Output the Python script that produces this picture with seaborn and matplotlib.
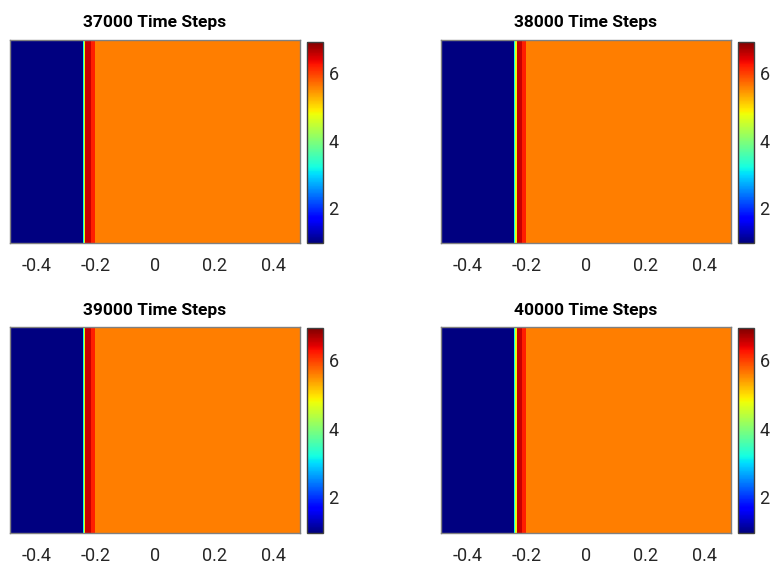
import numpy as np
import pandas as pd
import matplotlib
matplotlib.use("Agg")
import matplotlib.pyplot as plt
import seaborn as sns

sns.set_theme(style="white")
plt.rcParams['font.family'] = ['Roboto', 'Liberation Sans', 'DejaVu Sans']

# ---- data (piecewise-constant 1D fields) ----
titles = ["37000 Time Steps", "38000 Time Steps", "39000 Time Steps", "40000 Time Steps"]
# segment boundaries in x for each panel
edges_37000 = [-0.49, -0.2437, -0.2403, -0.2353, -0.2167, -0.2032, 0.49]
edges_38000 = [-0.49, -0.2427, -0.2393, -0.2342, -0.2157, -0.2022, 0.49]
edges_39000 = [-0.49, -0.2437, -0.2403, -0.2353, -0.2167, -0.2032, 0.49]
edges_40000 = [-0.49, -0.2427, -0.2393, -0.2342, -0.2157, -0.2022, 0.49]
# value on each segment
seg_values = [0.96, 3.2, 4.7, 6.55, 6.21, 5.6]
vmin, vmax = 0.96, 6.94
xticks = [-0.4, -0.2, 0, 0.2, 0.4]
xticklabels = ["-0.4", "-0.2", "0", "0.2", "0.4"]
cbar_ticks = [2, 4, 6]

edges_all = [edges_37000, edges_38000, edges_39000, edges_40000]

x0, x1 = -0.49, 0.49
ncell = 290
dx = (x1 - x0) / ncell
xc = x0 + dx * (np.arange(ncell) + 0.5)

W, H = 771, 565
fig = plt.figure(figsize=(W / 100, H / 100), dpi=100)

def fr(l, t, r, b):
    return [l / W, 1 - b / H, (r - l) / W, (b - t) / H]

ax_boxes = [fr(10, 40, 300, 243), fr(441, 40, 731, 243),
            fr(10, 327, 300, 533), fr(441, 327, 731, 533)]
cb_boxes = [fr(307, 41.5, 323, 243), fr(738, 41.5, 754, 243),
            fr(307, 328, 323, 533), fr(738, 328, 754, 533)]

frame_col = "#262626"
for i in range(4):
    ax = fig.add_axes(ax_boxes[i])
    cax = fig.add_axes(cb_boxes[i])
    e = np.array(edges_all[i])
    idx = np.clip(np.searchsorted(e, xc, side="right") - 1, 0, len(seg_values) - 1)
    vals = np.array(seg_values)[idx]
    df = pd.DataFrame([vals], columns=np.round(xc, 5))
    sns.heatmap(df, ax=ax, cmap="jet", vmin=vmin, vmax=vmax, cbar=True,
                cbar_ax=cax, xticklabels=False, yticklabels=False,
                linewidths=0, linecolor="face", antialiased=False)
    ax.set_xticks([(t - x0) / dx for t in xticks])
    ax.set_xticklabels(xticklabels, fontsize=13, color="#262626")
    ax.set_yticks([])
    ax.tick_params(axis="x", direction="in", length=4, width=0.6, pad=10,
                   top=True, bottom=True, colors=frame_col, labelcolor="#262626")
    ax.set_xlabel("")
    ax.set_ylabel("")
    for s in ax.spines.values():
        s.set_visible(True)
        s.set_color("#808080")
        s.set_linewidth(1.0)
    ax.set_title(titles[i], fontsize=12.5, fontweight="bold", pad=9, color="black")
    cb = ax.collections[0].colorbar
    cb.set_ticks(cbar_ticks)
    cb.ax.tick_params(direction="in", length=3, width=0.6, labelsize=13, pad=4,
                      colors=frame_col, labelcolor="#262626")
    cb.outline.set_visible(True)
    cb.outline.set_linewidth(1.0)
    cb.outline.set_edgecolor("#404040")

fig.savefig("out.png", dpi=100)
